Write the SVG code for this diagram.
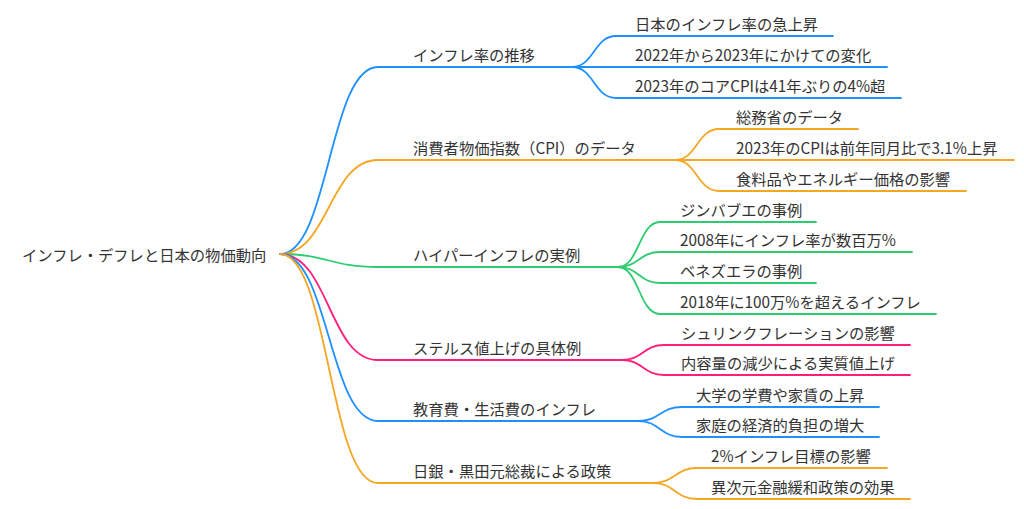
<svg xmlns="http://www.w3.org/2000/svg" width="1024" height="509" viewBox="0 0 1024 509">
<style>
text{font-family:"Noto Sans CJK JP","Noto Sans",sans-serif;font-size:15.3px;fill:#333}
.c{fill:none;stroke-width:1.8;stroke-linecap:round}
.b{stroke:#1e90ff}.o{stroke:#f5a623}.g{stroke:#2ecc71}.p{stroke:#ff1f7a}
</style>
<rect width="1024" height="509" fill="#fff"/>
<g id="connectors">
<path class="c b" d="M280,254 C329,254 329,67 378,67 H572"/>
<path class="c o" d="M280,254 C329,254 329,160 378,160 H675"/>
<path class="c g" d="M280,254 C329,254 329,267 378,267 H618"/>
<path class="c p" d="M280,254 C329,254 329,360 378,360 H622"/>
<path class="c b" d="M280,254 C329,254 329,421 378,421 H638"/>
<path class="c o" d="M280,254 C329,254 329,483 378,483 H653"/>
<path class="c b" d="M572,67 C594,67 594,36 616,36 H833"/>
<path class="c b" d="M572,67 C594,67 594,67 616,67 H887"/>
<path class="c b" d="M572,67 C594,67 594,98 616,98 H901"/>
<path class="c o" d="M675,160 C697,160 697,129 719,129 H858"/>
<path class="c o" d="M675,160 C697,160 697,160 719,160 H1014"/>
<path class="c o" d="M675,160 C697,160 697,191 719,191 H966"/>
<path class="c g" d="M618,267 C639,267 639,222 660,222 H816"/>
<path class="c g" d="M618,267 C639,267 639,252 660,252 H912"/>
<path class="c g" d="M618,267 C639,267 639,283 660,283 H816"/>
<path class="c g" d="M618,267 C639,267 639,314 660,314 H936"/>
<path class="c p" d="M622,360 C643,360 643,345 664,345 H910"/>
<path class="c p" d="M622,360 C643,360 643,375 664,375 H910"/>
<path class="c b" d="M638,421 C660,421 660,407 682,407 H879"/>
<path class="c b" d="M638,421 C660,421 660,437 682,437 H879"/>
<path class="c o" d="M653,483 C675,483 675,468 697,468 H887"/>
<path class="c o" d="M653,483 C675,483 675,499 697,499 H910"/>
</g>
<g id="root"><text x="22" y="261">インフレ・デフレと日本の物価動向</text></g>
<g id="n1"><text x="413" y="61">インフレ率の推移</text></g>
<g id="n1a"><text x="635" y="30">日本のインフレ率の急上昇</text></g>
<g id="n1b"><text x="635" y="61">2022年から2023年にかけての変化</text></g>
<g id="n1c"><text x="635" y="92">2023年のコアCPIは41年ぶりの4%超</text></g>
<g id="n2"><text x="413" y="154">消費者物価指数（CPI）のデータ</text></g>
<g id="n2a"><text x="736" y="123">総務省のデータ</text></g>
<g id="n2b"><text x="736" y="154">2023年のCPIは前年同月比で3.1%上昇</text></g>
<g id="n2c"><text x="736" y="185">食料品やエネルギー価格の影響</text></g>
<g id="n3"><text x="413" y="261">ハイパーインフレの実例</text></g>
<g id="n3a"><text x="680" y="216">ジンバブエの事例</text></g>
<g id="n3b"><text x="680" y="246">2008年にインフレ率が数百万%</text></g>
<g id="n3c"><text x="680" y="277">ベネズエラの事例</text></g>
<g id="n3d"><text x="680" y="308">2018年に100万%を超えるインフレ</text></g>
<g id="n4"><text x="413" y="354">ステルス値上げの具体例</text></g>
<g id="n4a"><text x="681" y="339">シュリンクフレーションの影響</text></g>
<g id="n4b"><text x="681" y="369">内容量の減少による実質値上げ</text></g>
<g id="n5"><text x="413" y="415">教育費・生活費のインフレ</text></g>
<g id="n5a"><text x="696" y="401">大学の学費や家賃の上昇</text></g>
<g id="n5b"><text x="696" y="431">家庭の経済的負担の増大</text></g>
<g id="n6"><text x="413" y="477">日銀・黒田元総裁による政策</text></g>
<g id="n6a"><text x="711" y="462">2%インフレ目標の影響</text></g>
<g id="n6b"><text x="711" y="493">異次元金融緩和政策の効果</text></g>
</svg>
